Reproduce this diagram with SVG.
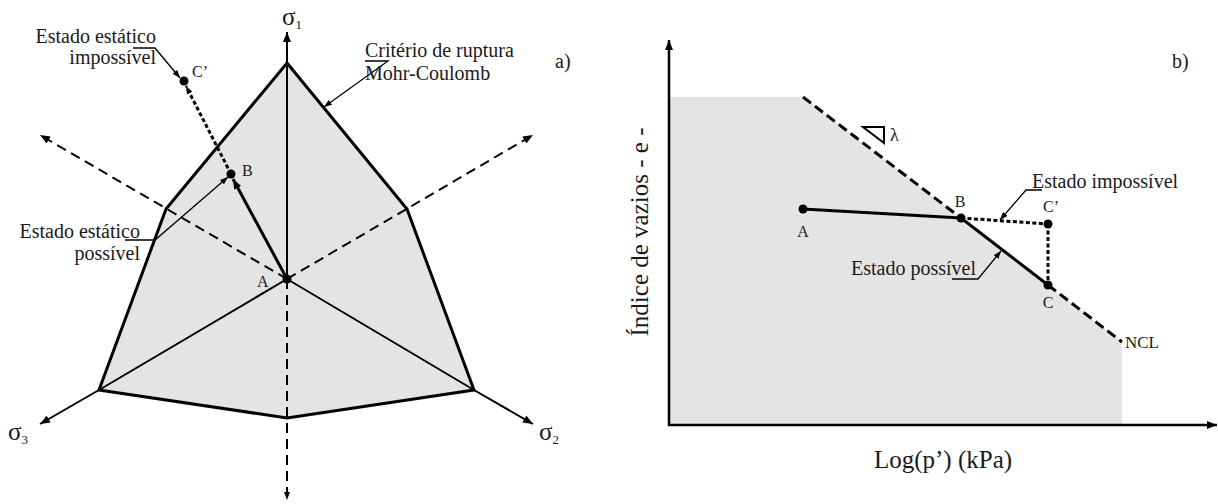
<svg xmlns="http://www.w3.org/2000/svg" width="1218" height="504" viewBox="0 0 1218 504">
<style>
text{font-family:"Liberation Serif","Times New Roman",serif;fill:#1a1a1a}
.lbl{font-size:20px}
.pt{font-size:16px}
.ax{font-size:25px}
.sig{font-size:25px}
.sub{font-size:13px}
.thick{stroke:#000;stroke-width:3;fill:none}
.med{stroke:#000;stroke-width:2;fill:none}
.thin{stroke:#000;stroke-width:1.3;fill:none}
.dash{stroke:#000;stroke-width:2;fill:none;stroke-dasharray:10 6}
.dot{stroke:#000;stroke-width:3;fill:none;stroke-dasharray:4 2.5}
.ncl{stroke:#000;stroke-width:3;fill:none;stroke-dasharray:10 5}
.fill{fill:#e4e4e4}
</style>
<defs>
<marker id="ah" viewBox="0 0 10 8" refX="10" refY="4" markerWidth="10" markerHeight="8" markerUnits="userSpaceOnUse" orient="auto"><path d="M0,0 L10,4 L0,8 z" fill="#000"/></marker>
<marker id="as" viewBox="0 0 8 6" refX="8" refY="3" markerWidth="8" markerHeight="6" markerUnits="userSpaceOnUse" orient="auto"><path d="M0,0 L8,3 L0,6 z" fill="#000"/></marker>
</defs>

<!-- Panel a -->
<g id="envelope">
<polygon class="fill" points="287,63 407,209 474,390 287,418 99,390 166,209"/>
</g>
<g id="connectors-a">
<line class="med" x1="287" y1="279" x2="99" y2="390"/>
<line class="med" x1="287" y1="279" x2="474" y2="390"/>
<line class="dash" x1="287" y1="279" x2="40" y2="135" marker-end="url(#ah)"/>
<line class="dash" x1="287" y1="279" x2="533" y2="135" marker-end="url(#ah)"/>
<line class="dash" x1="287" y1="279" x2="287" y2="500" marker-end="url(#as)"/>
<line class="med" x1="287" y1="279" x2="287" y2="32" marker-end="url(#ah)"/>
<line class="med" x1="99" y1="390" x2="40" y2="424" marker-end="url(#ah)"/>
<line class="med" x1="474" y1="390" x2="533" y2="424" marker-end="url(#ah)"/>
<polygon class="thick" points="287,63 407,209 474,390 287,418 99,390 166,209" stroke-linejoin="miter"/>
<line class="thick" x1="287" y1="279" x2="233" y2="179" marker-end="url(#ah)"/>
<line class="dot" x1="231" y1="174" x2="186" y2="86" marker-end="url(#as)"/>
<polyline class="thin" points="133,48 155,48 180,78" marker-end="url(#as)"/>
<polyline class="thin" points="125,240 155,240 228,177" marker-end="url(#as)"/>
<polyline class="thin" points="365,61 388,61 324,107" marker-end="url(#as)"/>
</g>
<g id="point-A-a"><circle cx="287" cy="279" r="4.5" fill="#000"/><text class="pt" x="257" y="287">A</text></g>
<g id="point-B-a"><circle cx="231" cy="174" r="4.5" fill="#000"/><text class="pt" x="242" y="176">B</text></g>
<g id="point-C-a"><circle cx="184" cy="81" r="4.5" fill="#000"/><text class="pt" x="192" y="77">C’</text></g>
<g id="sigma1"><text class="sig" x="282" y="25">σ<tspan class="sub" dy="4">1</tspan></text></g>
<g id="sigma3"><text class="sig" x="8" y="440">σ<tspan class="sub" dy="4">3</tspan></text></g>
<g id="sigma2"><text class="sig" x="539" y="440">σ<tspan class="sub" dy="4">2</tspan></text></g>
<g id="label-impossivel-a"><text class="lbl" x="156" y="43" text-anchor="end">Estado estático</text><text class="lbl" x="156" y="64" text-anchor="end">impossível</text></g>
<g id="label-possivel-a"><text class="lbl" x="140" y="238" text-anchor="end">Estado estático</text><text class="lbl" x="140" y="260" text-anchor="end">possível</text></g>
<g id="label-mc"><text class="lbl" x="365" y="57">Critério de ruptura</text><text class="lbl" x="365" y="80">Mohr-Coulomb</text></g>
<g id="label-a"><text class="lbl" x="555" y="68">a)</text></g>

<!-- Panel b -->
<g id="region-b">
<polygon class="fill" points="669,97 803,97 1122,342 1122,425 669,425"/>
</g>
<g id="connectors-b">
<line stroke="#000" stroke-width="2.5" x1="669" y1="426" x2="669" y2="40" marker-end="url(#ah)"/>
<line stroke="#000" stroke-width="2.5" x1="668" y1="425" x2="1217" y2="425" marker-end="url(#ah)"/>
<line class="ncl" x1="803" y1="97" x2="961" y2="218"/>
<line class="ncl" x1="1048" y1="285" x2="1122" y2="342"/>
<line class="thick" x1="961" y1="218" x2="1048" y2="285"/>
<line class="thick" x1="803" y1="209" x2="961" y2="218"/>
<line class="dot" x1="961" y1="218" x2="1048" y2="224"/>
<line class="dot" x1="1048" y1="224" x2="1048" y2="285"/>
<polyline class="thin" points="1042,190 1026,190 1000,220" marker-end="url(#as)"/>
<polyline class="thin" points="952,279 978,279 1001,251" marker-end="url(#as)"/>
<polygon points="863,127 884,127 884,143" fill="none" stroke="#000" stroke-width="2"/>
</g>
<g id="point-A-b"><circle cx="803" cy="209" r="4.5" fill="#000"/><text class="pt" x="803" y="237" text-anchor="middle">A</text></g>
<g id="point-B-b"><circle cx="961" cy="218" r="4.5" fill="#000"/><text class="pt" x="960" y="207" text-anchor="middle">B</text></g>
<g id="point-Cp-b"><circle cx="1048" cy="224" r="4.5" fill="#000"/><text class="pt" x="1043" y="212">C’</text></g>
<g id="point-C-b"><circle cx="1048" cy="285" r="4.5" fill="#000"/><text class="pt" x="1048" y="308" text-anchor="middle">C</text></g>
<g id="label-lambda"><text x="890" y="141" font-size="18">λ</text></g>
<g id="label-ncl"><text x="1125" y="348" font-size="17">NCL</text></g>
<g id="label-imp-b"><text class="lbl" x="1032" y="188">Estado impossível</text></g>
<g id="label-pos-b"><text class="lbl" x="851" y="275">Estado possível</text></g>
<g id="label-b"><text class="lbl" x="1172" y="68">b)</text></g>
<g id="xlabel"><text class="ax" x="943" y="468" text-anchor="middle">Log(p’) (kPa)</text></g>
<g id="ylabel"><text class="ax" transform="translate(648,232) rotate(-90)" text-anchor="middle">Índice de vazios - e -</text></g>
</svg>
